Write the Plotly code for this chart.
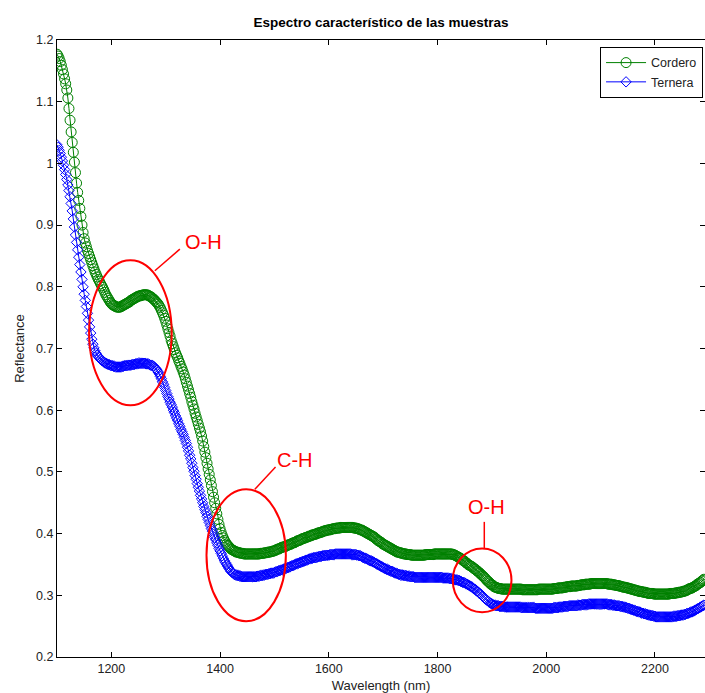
import plotly.graph_objects as go

# ---------------- data (2 nm steps) ----------------
wavelength = list(range(1100, 2291, 2))

cordero = [
    # 1100-1150
    1.177, 1.174, 1.170, 1.165, 1.159, 1.152, 1.145, 1.137, 1.129, 1.119,
    1.106, 1.089, 1.070, 1.051, 1.034, 1.018, 1.002, 0.985, 0.968, 0.953,
    0.940, 0.927, 0.914, 0.900, 0.888, 0.878,
    # 1152-1250
    0.871, 0.865, 0.859, 0.854, 0.849, 0.844, 0.839, 0.834, 0.829, 0.824,
    0.820, 0.816, 0.812, 0.809, 0.805, 0.802, 0.799, 0.795, 0.791, 0.787,
    0.784, 0.781, 0.778, 0.775, 0.773, 0.771, 0.770, 0.769, 0.768, 0.767,
    0.767, 0.767, 0.767, 0.768, 0.769, 0.770, 0.771, 0.772, 0.773, 0.774,
    0.775, 0.776, 0.778, 0.779, 0.780, 0.781, 0.782, 0.783, 0.784, 0.785,
    # 1252-1350
    0.785, 0.786, 0.786, 0.787, 0.787, 0.787, 0.787, 0.787, 0.786, 0.785,
    0.784, 0.783, 0.781, 0.780, 0.778, 0.776, 0.774, 0.772, 0.769, 0.766,
    0.762, 0.758, 0.754, 0.749, 0.744, 0.738, 0.732, 0.726, 0.720, 0.713,
    0.708, 0.703, 0.698, 0.693, 0.689, 0.685, 0.680, 0.676, 0.671, 0.667,
    0.662, 0.657, 0.651, 0.645, 0.639, 0.633, 0.627, 0.621, 0.614, 0.608,
    # 1352-1450
    0.602, 0.595, 0.589, 0.583, 0.577, 0.571, 0.565, 0.558, 0.550, 0.541,
    0.532, 0.523, 0.514, 0.505, 0.496, 0.487, 0.478, 0.468, 0.459, 0.450,
    0.441, 0.432, 0.423, 0.415, 0.408, 0.402, 0.397, 0.393, 0.389, 0.386,
    0.383, 0.381, 0.379, 0.377, 0.375, 0.374, 0.373, 0.372, 0.371, 0.370,
    0.370, 0.369, 0.369, 0.368, 0.368, 0.368, 0.367, 0.367, 0.367, 0.367,
    # 1452-1550
    0.367, 0.367, 0.367, 0.367, 0.367, 0.367, 0.367, 0.367, 0.367, 0.367,
    0.367, 0.368, 0.368, 0.368, 0.368, 0.369, 0.369, 0.369, 0.370, 0.370,
    0.370, 0.371, 0.371, 0.372, 0.372, 0.373, 0.374, 0.375, 0.375, 0.376,
    0.377, 0.378, 0.378, 0.379, 0.379, 0.380, 0.381, 0.382, 0.382, 0.383,
    0.384, 0.385, 0.385, 0.386, 0.387, 0.388, 0.389, 0.389, 0.390, 0.391,
    # 1552-1650
    0.392, 0.392, 0.393, 0.394, 0.394, 0.395, 0.396, 0.396, 0.397, 0.398,
    0.398, 0.399, 0.399, 0.400, 0.401, 0.401, 0.402, 0.402, 0.403, 0.404,
    0.404, 0.405, 0.405, 0.406, 0.406, 0.406, 0.407, 0.407, 0.408, 0.408,
    0.408, 0.409, 0.409, 0.409, 0.409, 0.410, 0.410, 0.410, 0.410, 0.410,
    0.410, 0.410, 0.410, 0.410, 0.410, 0.410, 0.410, 0.409, 0.409, 0.409,
    # 1652-1750
    0.408, 0.408, 0.407, 0.406, 0.406, 0.405, 0.404, 0.403, 0.402, 0.401,
    0.400, 0.399, 0.398, 0.397, 0.396, 0.395, 0.394, 0.392, 0.391, 0.389,
    0.388, 0.387, 0.386, 0.384, 0.383, 0.382, 0.381, 0.380, 0.379, 0.378,
    0.377, 0.376, 0.375, 0.374, 0.373, 0.372, 0.371, 0.370, 0.370, 0.369,
    0.369, 0.368, 0.368, 0.367, 0.367, 0.367, 0.366, 0.366, 0.366, 0.366,
    # 1752-1850
    0.365, 0.365, 0.365, 0.365, 0.365, 0.365, 0.365, 0.365, 0.365, 0.365,
    0.365, 0.365, 0.365, 0.366, 0.366, 0.366, 0.366, 0.366, 0.366, 0.366,
    0.366, 0.367, 0.367, 0.367, 0.367, 0.367, 0.367, 0.367, 0.367, 0.367,
    0.367, 0.367, 0.367, 0.367, 0.367, 0.367, 0.367, 0.367, 0.366, 0.366,
    0.365, 0.364, 0.363, 0.362, 0.361, 0.360, 0.359, 0.357, 0.356, 0.355,
    # 1852-1950
    0.353, 0.352, 0.350, 0.349, 0.348, 0.347, 0.346, 0.344, 0.343, 0.342,
    0.340, 0.339, 0.337, 0.336, 0.334, 0.332, 0.331, 0.329, 0.327, 0.325,
    0.323, 0.322, 0.320, 0.318, 0.317, 0.316, 0.314, 0.313, 0.313, 0.312,
    0.311, 0.311, 0.311, 0.310, 0.310, 0.310, 0.310, 0.310, 0.310, 0.310,
    0.310, 0.310, 0.310, 0.310, 0.310, 0.310, 0.310, 0.310, 0.310, 0.310,
    # 1952-2050
    0.310, 0.310, 0.309, 0.309, 0.309, 0.309, 0.309, 0.309, 0.309, 0.309,
    0.309, 0.309, 0.309, 0.309, 0.309, 0.309, 0.309, 0.310, 0.310, 0.310,
    0.310, 0.310, 0.310, 0.310, 0.310, 0.310, 0.310, 0.310, 0.310, 0.310,
    0.310, 0.311, 0.311, 0.311, 0.311, 0.312, 0.312, 0.312, 0.312, 0.312,
    0.313, 0.313, 0.313, 0.314, 0.314, 0.314, 0.314, 0.315, 0.315, 0.315,
    # 2052-2150
    0.315, 0.315, 0.315, 0.316, 0.316, 0.316, 0.317, 0.317, 0.317, 0.317,
    0.318, 0.318, 0.318, 0.318, 0.318, 0.319, 0.319, 0.319, 0.319, 0.319,
    0.319, 0.319, 0.319, 0.319, 0.319, 0.319, 0.319, 0.319, 0.319, 0.319,
    0.319, 0.318, 0.318, 0.318, 0.318, 0.317, 0.317, 0.317, 0.316, 0.316,
    0.316, 0.315, 0.315, 0.314, 0.314, 0.313, 0.313, 0.313, 0.312, 0.312,
    # 2152-2250
    0.311, 0.311, 0.310, 0.310, 0.309, 0.309, 0.308, 0.308, 0.307, 0.307,
    0.306, 0.306, 0.306, 0.305, 0.305, 0.305, 0.304, 0.304, 0.303, 0.303,
    0.303, 0.303, 0.303, 0.302, 0.302, 0.302, 0.302, 0.302, 0.302, 0.302,
    0.302, 0.302, 0.302, 0.302, 0.302, 0.302, 0.302, 0.302, 0.303, 0.303,
    0.303, 0.303, 0.303, 0.304, 0.304, 0.304, 0.305, 0.305, 0.305, 0.306,
    # 2252-2290
    0.306, 0.307, 0.307, 0.308, 0.309, 0.310, 0.311, 0.311, 0.312, 0.313,
    0.314, 0.315, 0.316, 0.318, 0.319, 0.320, 0.321, 0.323, 0.324, 0.326,
]

ternera = [
    # 1100-1150
    1.030, 1.026, 1.021, 1.016, 1.010, 1.004, 0.997, 0.990, 0.982, 0.974,
    0.965, 0.956, 0.946, 0.935, 0.923, 0.910, 0.897, 0.884, 0.872, 0.860,
    0.848, 0.836, 0.824, 0.812, 0.800, 0.788,
    # 1152-1250
    0.778, 0.768, 0.757, 0.746, 0.735, 0.725, 0.715, 0.707, 0.701, 0.696,
    0.692, 0.689, 0.687, 0.685, 0.683, 0.681, 0.680, 0.678, 0.677, 0.676,
    0.675, 0.674, 0.674, 0.673, 0.672, 0.672, 0.671, 0.671, 0.670, 0.670,
    0.670, 0.670, 0.670, 0.670, 0.671, 0.671, 0.672, 0.672, 0.672, 0.673,
    0.673, 0.673, 0.673, 0.674, 0.674, 0.674, 0.675, 0.675, 0.675, 0.676,
    # 1252-1350
    0.676, 0.676, 0.676, 0.676, 0.676, 0.676, 0.675, 0.675, 0.675, 0.674,
    0.673, 0.673, 0.672, 0.671, 0.669, 0.667, 0.665, 0.662, 0.659, 0.655,
    0.651, 0.646, 0.642, 0.637, 0.632, 0.627, 0.622, 0.618, 0.613, 0.609,
    0.605, 0.600, 0.596, 0.591, 0.587, 0.583, 0.578, 0.574, 0.569, 0.565,
    0.561, 0.556, 0.551, 0.546, 0.540, 0.534, 0.527, 0.521, 0.514, 0.507,
    # 1352-1450
    0.501, 0.494, 0.488, 0.481, 0.475, 0.469, 0.462, 0.456, 0.450, 0.444,
    0.439, 0.434, 0.428, 0.423, 0.418, 0.413, 0.408, 0.404, 0.399, 0.394,
    0.390, 0.385, 0.381, 0.376, 0.372, 0.368, 0.364, 0.360, 0.356, 0.353,
    0.350, 0.347, 0.344, 0.341, 0.339, 0.337, 0.336, 0.334, 0.333, 0.333,
    0.332, 0.332, 0.331, 0.331, 0.330, 0.330, 0.330, 0.330, 0.330, 0.330,
    # 1452-1550
    0.330, 0.330, 0.330, 0.330, 0.330, 0.330, 0.330, 0.330, 0.331, 0.331,
    0.331, 0.332, 0.332, 0.332, 0.333, 0.333, 0.334, 0.334, 0.334, 0.335,
    0.335, 0.336, 0.336, 0.336, 0.337, 0.338, 0.338, 0.339, 0.340, 0.340,
    0.341, 0.341, 0.342, 0.343, 0.343, 0.344, 0.345, 0.345, 0.346, 0.347,
    0.348, 0.348, 0.349, 0.350, 0.351, 0.351, 0.352, 0.353, 0.353, 0.354,
    # 1552-1650
    0.355, 0.355, 0.356, 0.357, 0.357, 0.358, 0.359, 0.359, 0.360, 0.360,
    0.361, 0.361, 0.361, 0.362, 0.362, 0.363, 0.363, 0.363, 0.364, 0.364,
    0.364, 0.365, 0.365, 0.365, 0.365, 0.366, 0.366, 0.366, 0.366, 0.366,
    0.367, 0.367, 0.367, 0.367, 0.367, 0.367, 0.367, 0.367, 0.367, 0.367,
    0.367, 0.367, 0.367, 0.367, 0.367, 0.366, 0.366, 0.366, 0.366, 0.366,
    # 1652-1750
    0.365, 0.365, 0.364, 0.364, 0.363, 0.362, 0.361, 0.360, 0.360, 0.359,
    0.358, 0.357, 0.356, 0.356, 0.355, 0.354, 0.353, 0.352, 0.351, 0.350,
    0.349, 0.348, 0.347, 0.346, 0.345, 0.344, 0.343, 0.342, 0.342, 0.341,
    0.340, 0.339, 0.339, 0.338, 0.337, 0.336, 0.336, 0.335, 0.334, 0.334,
    0.333, 0.333, 0.333, 0.332, 0.332, 0.332, 0.331, 0.331, 0.331, 0.330,
    # 1752-1850
    0.330, 0.330, 0.330, 0.329, 0.329, 0.329, 0.329, 0.329, 0.329, 0.329,
    0.329, 0.329, 0.329, 0.329, 0.329, 0.329, 0.329, 0.329, 0.329, 0.329,
    0.329, 0.329, 0.329, 0.329, 0.329, 0.329, 0.329, 0.329, 0.329, 0.328,
    0.328, 0.328, 0.328, 0.328, 0.328, 0.327, 0.327, 0.327, 0.326, 0.326,
    0.325, 0.325, 0.325, 0.324, 0.324, 0.323, 0.322, 0.321, 0.321, 0.320,
    # 1852-1950
    0.319, 0.318, 0.317, 0.316, 0.315, 0.314, 0.313, 0.311, 0.310, 0.309,
    0.307, 0.306, 0.304, 0.303, 0.301, 0.299, 0.298, 0.296, 0.294, 0.293,
    0.291, 0.290, 0.288, 0.287, 0.286, 0.285, 0.284, 0.284, 0.283, 0.283,
    0.283, 0.282, 0.282, 0.282, 0.282, 0.282, 0.281, 0.281, 0.281, 0.281,
    0.281, 0.281, 0.281, 0.281, 0.281, 0.281, 0.281, 0.281, 0.281, 0.281,
    # 1952-2050
    0.281, 0.280, 0.280, 0.280, 0.280, 0.280, 0.280, 0.280, 0.280, 0.280,
    0.280, 0.280, 0.280, 0.280, 0.279, 0.279, 0.279, 0.279, 0.279, 0.279,
    0.279, 0.279, 0.279, 0.279, 0.279, 0.279, 0.279, 0.279, 0.279, 0.279,
    0.279, 0.280, 0.280, 0.280, 0.280, 0.280, 0.281, 0.281, 0.281, 0.281,
    0.282, 0.282, 0.282, 0.282, 0.282, 0.283, 0.283, 0.283, 0.283, 0.283,
    # 2052-2150
    0.283, 0.283, 0.283, 0.284, 0.284, 0.284, 0.284, 0.285, 0.285, 0.285,
    0.285, 0.285, 0.285, 0.286, 0.286, 0.286, 0.286, 0.286, 0.286, 0.286,
    0.286, 0.286, 0.286, 0.286, 0.286, 0.286, 0.286, 0.286, 0.286, 0.286,
    0.286, 0.285, 0.285, 0.285, 0.285, 0.284, 0.284, 0.284, 0.283, 0.283,
    0.283, 0.283, 0.282, 0.282, 0.282, 0.281, 0.281, 0.280, 0.280, 0.279,
    # 2152-2250
    0.279, 0.278, 0.277, 0.277, 0.276, 0.276, 0.275, 0.274, 0.274, 0.273,
    0.273, 0.272, 0.271, 0.271, 0.270, 0.270, 0.269, 0.269, 0.268, 0.268,
    0.267, 0.267, 0.267, 0.266, 0.266, 0.265, 0.265, 0.265, 0.265, 0.265,
    0.265, 0.265, 0.265, 0.265, 0.265, 0.265, 0.265, 0.265, 0.265, 0.265,
    0.265, 0.266, 0.266, 0.266, 0.266, 0.267, 0.267, 0.267, 0.268, 0.268,
    # 2252-2290
    0.268, 0.269, 0.269, 0.270, 0.271, 0.271, 0.272, 0.273, 0.273, 0.274,
    0.275, 0.276, 0.277, 0.278, 0.279, 0.280, 0.281, 0.282, 0.283, 0.284,
]

x_tick_values = [1200, 1400, 1600, 1800, 2000, 2200]
x_tick_labels = ["1200", "1400", "1600", "1800", "2000", "2200"]
y_tick_values = [0.2, 0.3, 0.4, 0.5, 0.6, 0.7, 0.8, 0.9, 1.0, 1.1, 1.2]
y_tick_labels = ["0.2", "0.3", "0.4", "0.5", "0.6", "0.7", "0.8", "0.9", "1", "1.1", "1.2"]

# annotated absorption bands: (label, ellipse x0, x1, y0, y1, leader line, text position)
bands = [
    ("O-H", 1159, 1311, 0.608, 0.843, (1280, 0.826, 1326, 0.861), (1369, 0.873)),
    ("C-H", 1375, 1521, 0.258, 0.472, (1464, 0.472, 1502, 0.508), (1537, 0.519)),
    ("O-H", 1828, 1936, 0.2725, 0.376, (1886, 0.3767, 1886, 0.419), (1890, 0.4426)),
]

GREEN = "rgb(0,128,0)"
BLUE = "rgb(0,0,255)"
FONT = "Liberation Sans, Arial, sans-serif"

fig = go.Figure()
fig.add_trace(go.Scatter(
    x=wavelength, y=cordero, name="Cordero", mode="lines+markers",
    line=dict(color=GREEN, width=1),
    marker=dict(symbol="circle-open", size=10, color=GREEN, line=dict(width=1, color=GREEN)),
))
fig.add_trace(go.Scatter(
    x=wavelength, y=ternera, name="Ternera", mode="lines+markers",
    line=dict(color=BLUE, width=1),
    marker=dict(symbol="diamond-open", size=8, color=BLUE, line=dict(width=1, color=BLUE)),
))

shapes = []
annotations = []
for label, ex0, ex1, ey0, ey1, (lx0, ly0, lx1, ly1), (tx, ty) in bands:
    shapes.append(dict(type="circle", xref="x", yref="y", x0=ex0, x1=ex1, y0=ey0, y1=ey1,
                       line=dict(color="red", width=2)))
    shapes.append(dict(type="line", xref="x", yref="y", x0=lx0, y0=ly0, x1=lx1, y1=ly1,
                       line=dict(color="red", width=1.5)))
    annotations.append(dict(x=tx, y=ty, xref="x", yref="y", text=label, showarrow=False,
                            font=dict(family=FONT, size=20, color="red"),
                            xanchor="center", yanchor="middle"))

axis_common = dict(
    showline=True, linecolor="black", linewidth=1, mirror="ticks",
    ticks="inside", ticklen=5, tickwidth=1, tickcolor="black",
    showgrid=False, zeroline=False,
    tickfont=dict(family=FONT, size=12.5, color="#222222"),
)

fig.update_layout(
    width=705, height=693,
    margin=dict(l=57, r=0, t=40, b=36, autoexpand=False),
    paper_bgcolor="white", plot_bgcolor="white",
    title=dict(text="<b>Espectro característico de las muestras</b>",
               x=0.5, xref="paper", y=1 - 22.5 / 693, yref="container", yanchor="middle",
               font=dict(family=FONT, size=13.5, color="black")),
    xaxis=dict(range=[1100, 2292], tickvals=x_tick_values, ticktext=x_tick_labels,
               title=dict(text="Wavelength (nm)", standoff=6,
                          font=dict(family=FONT, size=13, color="#222222")),
               **axis_common),
    yaxis=dict(range=[0.2, 1.2], tickvals=y_tick_values, ticktext=y_tick_labels,
               title=dict(text="Reflectance", standoff=8,
                          font=dict(family=FONT, size=13, color="#222222")),
               **axis_common),
    legend=dict(x=0.997, xanchor="right", y=0.9887, yanchor="top",
                bgcolor="white", bordercolor="black", borderwidth=1,
                font=dict(family=FONT, size=12.5, color="#222222"),
                tracegroupgap=0, itemwidth=40),
    shapes=shapes,
    annotations=annotations,
    showlegend=True,
)

fig.write_html("out.html")
